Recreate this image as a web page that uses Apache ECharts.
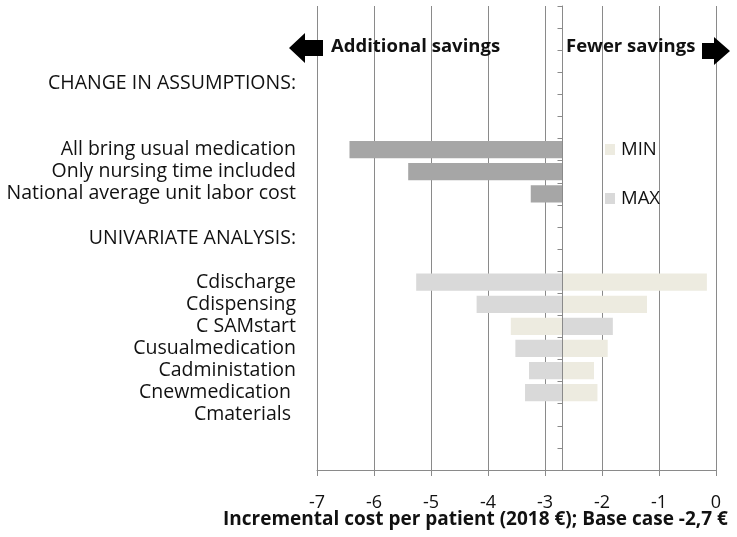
<!DOCTYPE html>
<html><head><meta charset="utf-8">
<script src="https://cdn.jsdelivr.net/npm/echarts@6/dist/echarts.min.js"></script>
<style>html,body{margin:0;padding:0;background:#fff}#c{width:737px;height:537px}</style>
</head><body><div id="c"></div>
<script>
var categories = ['', '', '', 'CHANGE IN ASSUMPTIONS:', '', '', 'All bring usual medication', 'Only nursing time included', 'National average unit labor cost', '', 'UNIVARIATE ANALYSIS:', '', 'Cdischarge', 'Cdispensing', 'C SAMstart', 'Cusualmedication', 'Cadministation', 'Cnewmedication ', 'Cmaterials ', '', ''];
var baseCase = -2.7;
var assumptionNames = ['All bring usual medication', 'Only nursing time included', 'National average unit labor cost'];
var assumptionValues = [-6.43, -5.40, -3.25];
var univariateNames = ['Cdischarge', 'Cdispensing', 'C SAMstart', 'Cusualmedication', 'Cadministation', 'Cnewmedication '];
var minValues = [-0.16, -1.21, -3.60, -1.90, -2.14, -2.08];
var maxValues = [-5.26, -4.20, -1.81, -3.52, -3.28, -3.35];
var xTicks = [-7, -6, -5, -4, -3, -2, -1, 0];

var FONT = '"Open Sans"';
function toData(names, vals) {
  return names.map(function (n, i) { return [categories.indexOf(n), vals[i]]; });
}
function renderBar(params, api) {
  var cat = api.value(0), v = api.value(1);
  var p0 = api.coord([baseCase, cat]);
  var p1 = api.coord([v, cat]);
  var h = api.size([0, 1])[1] * 0.78;
  return {
    type: 'rect',
    shape: { x: Math.min(p0[0], p1[0]), y: p0[1] - h / 2, width: Math.abs(p1[0] - p0[0]), height: h },
    style: { fill: api.visual('color') }
  };
}
var chart = echarts.init(document.getElementById('c'), null, { renderer: 'canvas' });
var option = {
  animation: false,
  backgroundColor: '#ffffff',
  textStyle: { fontFamily: FONT },
  grid: { left: 317, right: 21, top: 6, bottom: 67, containLabel: false },
  legend: {
    orient: 'vertical', left: 600, top: 135, itemWidth: 10, itemHeight: 11, itemGap: 30,
    icon: 'rect', data: ['MIN', 'MAX'],
    textStyle: { fontFamily: FONT, fontSize: 18.5, color: '#111', padding: [0, 0, 0, 1] }
  },
  xAxis: {
    type: 'value', min: xTicks[0], max: xTicks[xTicks.length - 1], interval: 1,
    axisLine: { show: true, lineStyle: { color: '#8a8a8a', width: 1 } },
    axisTick: { show: true, length: 6, lineStyle: { color: '#8a8a8a' } },
    splitLine: { show: true, lineStyle: { color: '#8a8a8a', width: 1 } },
    axisLabel: { margin: 24, fontSize: 18, color: '#111', fontFamily: FONT }
  },
  yAxis: [{
    type: 'category', data: categories, inverse: true, position: 'left',
    axisLine: { show: false }, axisTick: { show: false }, splitLine: { show: false },
    axisLabel: { margin: 21, fontSize: 19.5, color: '#111', fontFamily: FONT, interval: 0 }
  }, {
    type: 'category', data: categories, inverse: true, position: 'left', offset: -245.5, z: 10,
    axisLine: { show: true, lineStyle: { color: '#8a8a8a', width: 1 } },
    axisTick: { show: true, length: 5, lineStyle: { color: '#8a8a8a' } },
    axisLabel: { show: false }, splitLine: { show: false }
  }],
  series: [{
    name: 'Assumptions', type: 'custom', renderItem: renderBar, yAxisIndex: 0,
    itemStyle: { color: '#a6a6a6' }, encode: { x: 1, y: 0 },
    data: toData(assumptionNames, assumptionValues)
  }, {
    name: 'MIN', type: 'custom', renderItem: renderBar, yAxisIndex: 0,
    itemStyle: { color: '#edebe0' }, encode: { x: 1, y: 0 },
    data: toData(univariateNames, minValues)
  }, {
    name: 'MAX', type: 'custom', renderItem: renderBar, yAxisIndex: 0,
    itemStyle: { color: '#d9d9d9' }, encode: { x: 1, y: 0 },
    data: toData(univariateNames, maxValues)
  }],
  graphic: [
    { type: 'polygon', shape: { points: [[289, 48], [305, 33], [305, 40], [323, 40], [323, 56], [305, 56], [305, 63]] }, style: { fill: '#000' }, z: 20 },
    { type: 'polygon', shape: { points: [[730, 51], [714, 37], [714, 43], [702, 43], [702, 59], [714, 59], [714, 65]] }, style: { fill: '#000' }, z: 20 },
    { type: 'text', left: 331, top: 37, z: 20, style: { text: 'Additional savings', font: 'bold 18.5px ' + FONT, fill: '#111' } },
    { type: 'text', left: 566, top: 37, z: 20, style: { text: 'Fewer savings', font: 'bold 18.5px ' + FONT, fill: '#111' } },
    { type: 'text', left: 223, top: 510, z: 20, style: { text: 'Incremental cost per patient (2018 €); Base case -2,7 €', font: 'bold 19px ' + FONT, fill: '#111' } }
  ]
};
chart.setOption(option);
</script></body></html>
